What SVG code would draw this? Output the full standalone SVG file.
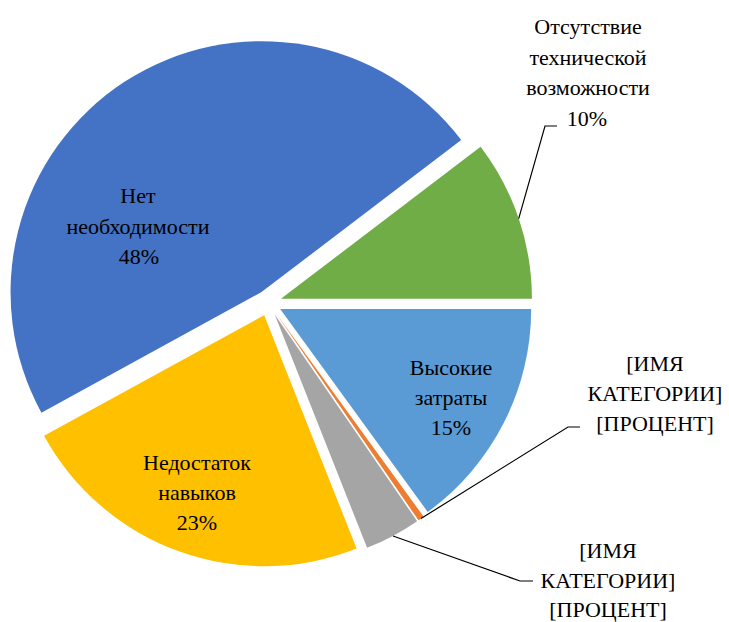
<svg xmlns="http://www.w3.org/2000/svg" width="729" height="622" viewBox="0 0 729 622">
<rect width="729" height="622" fill="#fff"/>
<g id="slice-net">
<path d="M261.52,292.10 L41.37,412.63 A251,251 0 0 1 461.19,139.99 Z" fill="#4472C4"/>
<text x="138" y="203" font-family="Liberation Serif, serif" font-size="22" text-anchor="middle"><tspan font-family="Liberation Serif" style="font-family:'Liberation Serif',serif">Нет</tspan></text>
<text x="138" y="233.5" font-family="Liberation Serif, serif" font-size="22" text-anchor="middle"><tspan font-family="Liberation Serif" style="font-family:'Liberation Serif',serif">необходимости</tspan></text>
<text x="139" y="263.5" font-family="Liberation Serif, serif" font-size="22" text-anchor="middle"><tspan font-family="Liberation Serif" style="font-family:'Liberation Serif',serif">48%</tspan></text>
</g>
<g id="slice-otsutstvie">
<path d="M280.92,298.84 L480.59,146.73 A251,251 0 0 1 531.92,298.84 Z" fill="#70AD47"/>
<text x="588" y="34" font-family="Liberation Serif, serif" font-size="22" text-anchor="middle"><tspan font-family="Liberation Serif" style="font-family:'Liberation Serif',serif">Отсутствие</tspan></text>
<text x="588" y="64.5" font-family="Liberation Serif, serif" font-size="22" text-anchor="middle"><tspan font-family="Liberation Serif" style="font-family:'Liberation Serif',serif">технической</tspan></text>
<text x="588" y="95" font-family="Liberation Serif, serif" font-size="22" text-anchor="middle"><tspan font-family="Liberation Serif" style="font-family:'Liberation Serif',serif">возможности</tspan></text>
<text x="587" y="125.5" font-family="Liberation Serif, serif" font-size="22" text-anchor="middle"><tspan font-family="Liberation Serif" style="font-family:'Liberation Serif',serif">10%</tspan></text>
</g>
<g id="slice-vysokie">
<path d="M280.18,308.90 L531.18,308.90 A251,251 0 0 1 427.72,511.96 Z" fill="#5B9BD5"/>
<text x="451" y="375" font-family="Liberation Serif, serif" font-size="22" text-anchor="middle"><tspan font-family="Liberation Serif" style="font-family:'Liberation Serif',serif">Высокие</tspan></text>
<text x="451" y="405" font-family="Liberation Serif, serif" font-size="22" text-anchor="middle"><tspan font-family="Liberation Serif" style="font-family:'Liberation Serif',serif">затраты</tspan></text>
<text x="451" y="435" font-family="Liberation Serif, serif" font-size="22" text-anchor="middle"><tspan font-family="Liberation Serif" style="font-family:'Liberation Serif',serif">15%</tspan></text>
</g>
<g id="slice-orange">
<path d="M276.11,313.61 L423.65,516.67 A251,251 0 0 1 418.50,520.31 Z" fill="#ED7D31"/>
<text x="655" y="371" font-family="Liberation Serif, serif" font-size="22" text-anchor="middle"><tspan font-family="Liberation Serif" style="font-family:'Liberation Serif',serif">[ИМЯ</tspan></text>
<text x="655" y="401" font-family="Liberation Serif, serif" font-size="22" text-anchor="middle"><tspan font-family="Liberation Serif" style="font-family:'Liberation Serif',serif">КАТЕГОРИИ]</tspan></text>
<text x="655" y="431" font-family="Liberation Serif, serif" font-size="22" text-anchor="middle"><tspan font-family="Liberation Serif" style="font-family:'Liberation Serif',serif">[ПРОЦЕНТ]</tspan></text>
</g>
<g id="slice-gray">
<path d="M274.72,314.47 L417.11,521.17 A251,251 0 0 1 367.11,547.85 Z" fill="#A5A5A5"/>
<text x="608" y="558" font-family="Liberation Serif, serif" font-size="22" text-anchor="middle"><tspan font-family="Liberation Serif" style="font-family:'Liberation Serif',serif">[ИМЯ</tspan></text>
<text x="608" y="588" font-family="Liberation Serif, serif" font-size="22" text-anchor="middle"><tspan font-family="Liberation Serif" style="font-family:'Liberation Serif',serif">КАТЕГОРИИ]</tspan></text>
<text x="608" y="617" font-family="Liberation Serif, serif" font-size="22" text-anchor="middle"><tspan font-family="Liberation Serif" style="font-family:'Liberation Serif',serif">[ПРОЦЕНТ]</tspan></text>
</g>
<g id="slice-nedostatok">
<path d="M264.19,315.23 L356.58,548.61 A251,251 0 0 1 44.04,435.76 Z" fill="#FFC000"/>
<text x="197" y="470" font-family="Liberation Serif, serif" font-size="22" text-anchor="middle"><tspan font-family="Liberation Serif" style="font-family:'Liberation Serif',serif">Недостаток</tspan></text>
<text x="197" y="500" font-family="Liberation Serif, serif" font-size="22" text-anchor="middle"><tspan font-family="Liberation Serif" style="font-family:'Liberation Serif',serif">навыков</tspan></text>
<text x="197" y="530" font-family="Liberation Serif, serif" font-size="22" text-anchor="middle"><tspan font-family="Liberation Serif" style="font-family:'Liberation Serif',serif">23%</tspan></text>
</g>
<g id="connectors" fill="none" stroke="#000" stroke-width="1.2">
<polyline points="518.7,218.6 545,126 557,126"/>
<polyline points="421,518.5 568,427 580,427"/>
<polyline points="393,536 520,581 533,581"/>
</g>
</svg>
